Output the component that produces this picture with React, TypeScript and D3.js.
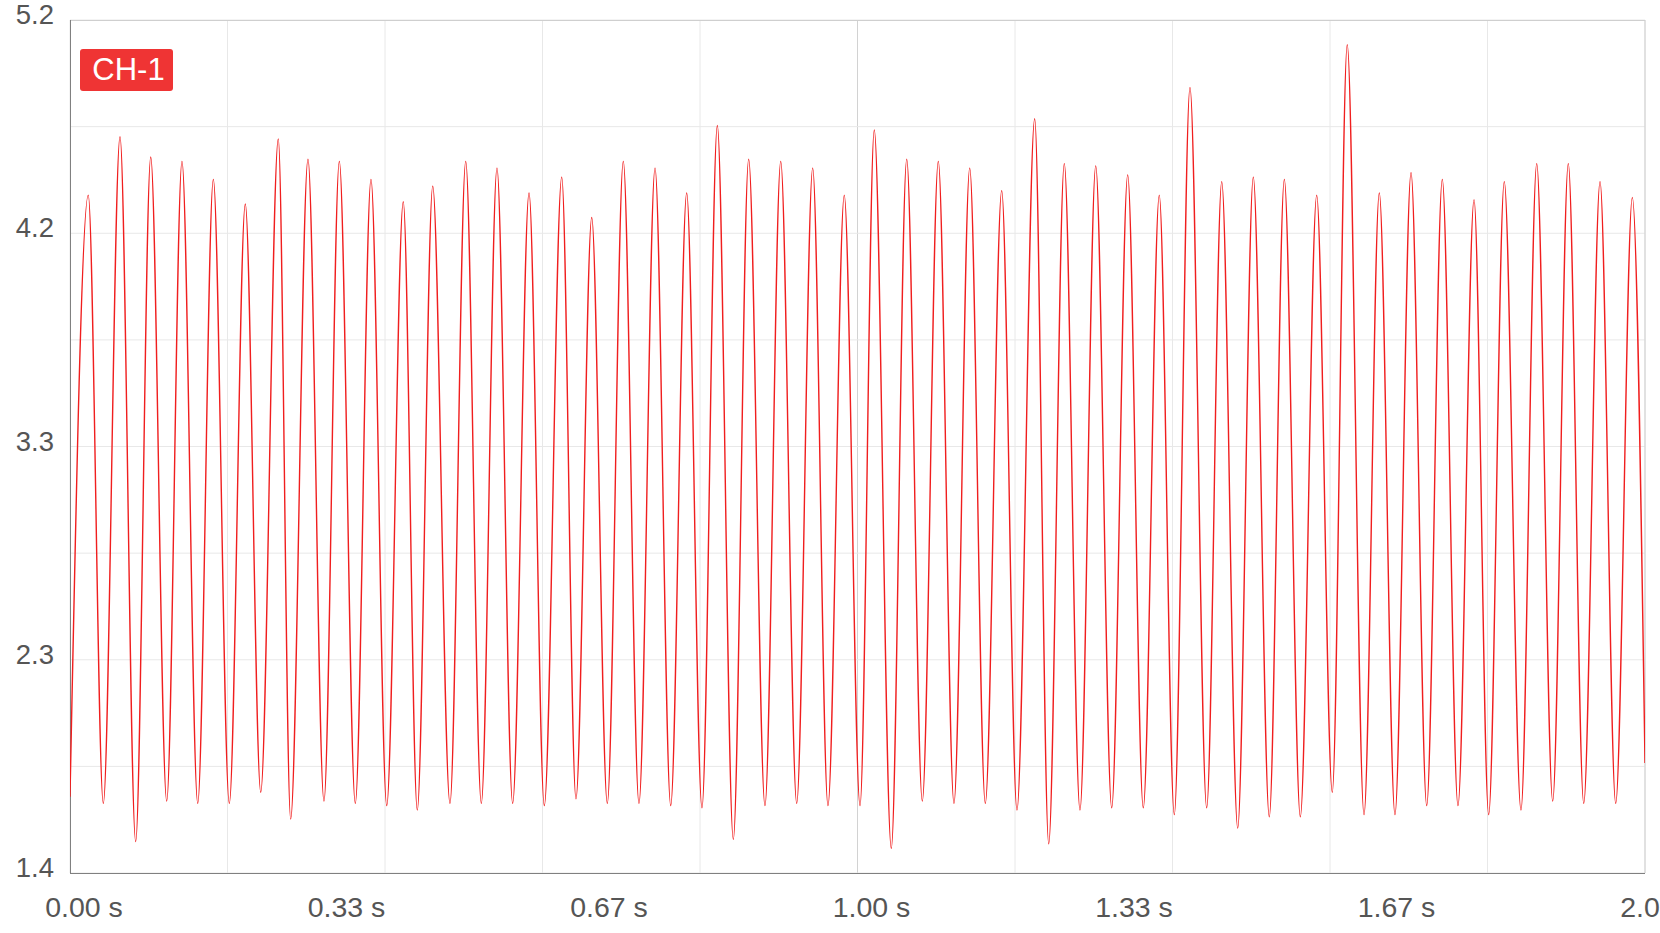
import React, { useRef, useEffect } from 'react';
import * as d3 from 'd3';

// waveform extrema (seconds, volts)
const peakTimes = [
    0.0232, 0.0635, 0.1025, 0.1422, 0.1820, 0.2226, 0.2645, 0.3022, 0.3420, 0.3822,
    0.4232, 0.4606, 0.5025, 0.5422, 0.5829, 0.6244, 0.6625, 0.7026, 0.7429, 0.7831,
    0.8220, 0.8618, 0.9025, 0.9431, 0.9832, 1.0213, 1.0625, 1.1026, 1.1425, 1.1831,
    1.2250, 1.2626, 1.3025, 1.3431, 1.3832, 1.4222, 1.4625, 1.5026, 1.5420, 1.5831,
    1.6219, 1.6626, 1.7029, 1.7426, 1.7829, 1.8213, 1.8625, 1.9026, 1.9429, 1.9839,
];
const peakValues = [
    4.42, 4.68, 4.59, 4.57, 4.49, 4.38, 4.67, 4.58, 4.57, 4.49,
    4.39, 4.46, 4.57, 4.54, 4.43, 4.50, 4.32, 4.57, 4.54, 4.43,
    4.73, 4.58, 4.57, 4.54, 4.42, 4.71, 4.58, 4.57, 4.54, 4.44,
    4.76, 4.56, 4.55, 4.51, 4.42, 4.90, 4.48, 4.50, 4.49, 4.42,
    5.09, 4.43, 4.52, 4.49, 4.40, 4.48, 4.56, 4.56, 4.48, 4.41,
];
const troughTimes = [
    0.0423, 0.0834, 0.1228, 0.1622, 0.2023, 0.2422, 0.2802, 0.3225, 0.3623, 0.4022,
    0.4410, 0.4825, 0.5223, 0.5621, 0.6023, 0.6425, 0.6823, 0.7225, 0.7628, 0.8025,
    0.8423, 0.8825, 0.9228, 0.9625, 1.0032, 1.0429, 1.0823, 1.1225, 1.1623, 1.2025,
    1.2428, 1.2825, 1.3228, 1.3629, 1.4023, 1.4434, 1.4828, 1.5229, 1.5623, 1.6029,
    1.6432, 1.6825, 1.7228, 1.7625, 1.8015, 1.8425, 1.8828, 1.9222, 1.9628,
];
const troughValues = [
    1.71, 1.54, 1.72, 1.71, 1.71, 1.76, 1.64, 1.72, 1.71, 1.70,
    1.68, 1.71, 1.71, 1.71, 1.70, 1.73, 1.71, 1.71, 1.70, 1.69,
    1.55, 1.70, 1.71, 1.70, 1.70, 1.51, 1.72, 1.71, 1.71, 1.68,
    1.53, 1.68, 1.69, 1.69, 1.66, 1.69, 1.60, 1.65, 1.65, 1.76,
    1.66, 1.66, 1.70, 1.70, 1.66, 1.68, 1.72, 1.71, 1.71,
];
const startPoint = { t: 0, v: 1.74 };
const endPoint = { t: 2, v: 1.89 };

const yTicks = [5.2, 4.25, 3.3, 2.35, 1.4];
const yTickLabels = ['5.2', '4.2', '3.3', '2.3', '1.4'];
const yGridTicks = [5.2, 4.725, 4.25, 3.775, 3.3, 2.825, 2.35, 1.875, 1.4];
const xTicks = [0, 1 / 3, 2 / 3, 1, 4 / 3, 5 / 3, 2];
const xTickLabels = ['0.00 s', '0.33 s', '0.67 s', '1.00 s', '1.33 s', '1.67 s', '2.00 s'];
const xGridTicks = [0, 0.2, 0.4, 0.6, 0.8, 1.0, 1.2, 1.4, 1.6, 1.8, 2.0];
const channelName = 'CH-1';

const width = 1660;
const height = 933;
const margin = { top: 20, right: 15, bottom: 60, left: 70 };
const font = "'Liberation Sans', Arial, sans-serif";

const App: React.FC = () => {
    const svgRef = useRef<SVGSVGElement | null>(null);

    useEffect(() => {
        if (!svgRef.current) return;
        const svg = d3.select(svgRef.current);
        svg.selectAll('*').remove();

        const x = d3.scaleLinear().domain([0, 2]).range([margin.left, width - margin.right]);
        const y = d3.scaleLinear().domain([1.4, 5.2]).range([height - margin.bottom, margin.top]);

        svg.append('rect').attr('width', width).attr('height', height).attr('fill', '#fff');

        // grid
        svg.append('g').selectAll('line')
            .data(xGridTicks)
            .join('line')
            .attr('x1', d => x(d)).attr('x2', d => x(d))
            .attr('y1', margin.top).attr('y2', height - margin.bottom)
            .attr('stroke', d => (d === 1 ? '#d2d2d2' : '#e8e8e8'))
            .attr('stroke-width', 1);
        svg.append('g').selectAll('line')
            .data(yGridTicks)
            .join('line')
            .attr('x1', margin.left).attr('x2', width - margin.right)
            .attr('y1', d => y(d)).attr('y2', d => y(d))
            .attr('stroke', '#e8e8e8')
            .attr('stroke-width', 1);

        // frame
        svg.append('line')
            .attr('x1', margin.left).attr('x2', width - margin.right)
            .attr('y1', margin.top + 0.5).attr('y2', margin.top + 0.5)
            .attr('stroke', '#cfcfcf');
        svg.append('line')
            .attr('x1', width - margin.right).attr('x2', width - margin.right)
            .attr('y1', margin.top).attr('y2', height - margin.bottom)
            .attr('stroke', '#cfcfcf');
        svg.append('line')
            .attr('x1', margin.left + 0.5).attr('x2', margin.left + 0.5)
            .attr('y1', margin.top).attr('y2', height - margin.bottom)
            .attr('stroke', '#808080');
        svg.append('line')
            .attr('x1', margin.left).attr('x2', width - margin.right)
            .attr('y1', height - margin.bottom + 0.5).attr('y2', height - margin.bottom + 0.5)
            .attr('stroke', '#808080');

        // y labels
        svg.append('g').selectAll('text')
            .data(yTicks)
            .join('text')
            .attr('x', margin.left - 16)
            .attr('y', d => y(d) + 4)
            .attr('text-anchor', 'end')
            .attr('font-family', font)
            .attr('font-size', 27.5)
            .attr('fill', '#555')
            .text((_, i) => yTickLabels[i]);

        // x labels
        svg.append('g').selectAll('text')
            .data(xTicks)
            .join('text')
            .attr('x', d => x(d) + 14)
            .attr('y', height - 16)
            .attr('text-anchor', 'middle')
            .attr('font-family', font)
            .attr('font-size', 28.5)
            .attr('fill', '#555')
            .text((_, i) => xTickLabels[i]);

        // waveform
        const points = [
            startPoint,
            ...peakTimes.map((t, i) => ({ t, v: peakValues[i] })),
            ...troughTimes.map((t, i) => ({ t, v: troughValues[i] })),
            endPoint,
        ].sort((a, b) => a.t - b.t);

        svg.append('defs').append('clipPath')
            .attr('id', 'plot-clip')
            .append('rect')
            .attr('x', margin.left)
            .attr('y', margin.top)
            .attr('width', width - margin.left - margin.right)
            .attr('height', height - margin.top - margin.bottom);

        const line = d3.line<{ t: number; v: number }>()
            .x(d => x(d.t))
            .y(d => y(d.v))
            .curve(d3.curveMonotoneX);

        svg.append('path')
            .datum(points)
            .attr('clip-path', 'url(#plot-clip)')
            .attr('d', line)
            .attr('fill', 'none')
            .attr('stroke', '#f01e1e')
            .attr('stroke-width', 1.4);

        // channel badge
        const badge = svg.append('g');
        badge.append('rect')
            .attr('x', 80).attr('y', 49)
            .attr('width', 93).attr('height', 42)
            .attr('rx', 3)
            .attr('fill', '#ef3434');
        badge.append('text')
            .attr('x', 128.5).attr('y', 79.5)
            .attr('text-anchor', 'middle')
            .attr('font-family', font)
            .attr('font-size', 31)
            .attr('fill', '#fff')
            .text(channelName);
    }, []);

    return (
        <svg
            ref={svgRef}
            width={width}
            height={height}
            style={{ position: 'absolute', left: 0, top: 0, display: 'block' }}
        ></svg>
    );
};

export default App;
